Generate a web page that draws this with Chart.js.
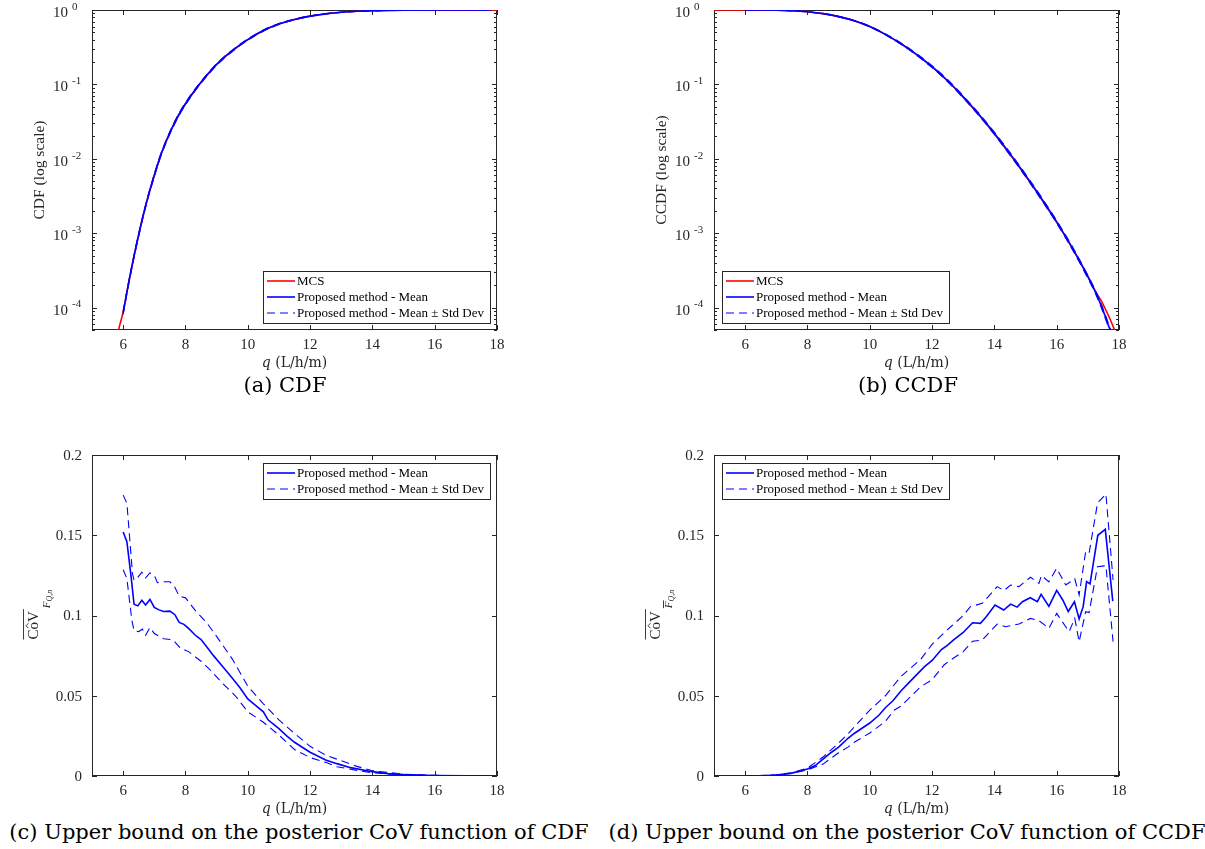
<!DOCTYPE html>
<html>
<head>
<meta charset="utf-8">
<script src="https://cdn.jsdelivr.net/npm/chart.js@4.4.1/dist/chart.umd.min.js"></script>
<style>
  body { margin: 0; background: #fff; width: 1205px; height: 849px; position: relative; overflow: hidden; }
  .panel { position: absolute; }
  .caption { position: absolute; font-family: "DejaVu Serif", serif; font-size: 21px; line-height: 24px; color: #000; white-space: nowrap; transform: translateX(-50%); }
</style>
</head>
<body>
<div class="panel" style="left:0;top:0"><canvas id="cdf" width="520" height="380"></canvas></div>
<div class="panel" style="left:622px;top:0"><canvas id="ccdf" width="520" height="380"></canvas></div>
<div class="panel" style="left:0;top:440px"><canvas id="covCdf" width="520" height="380"></canvas></div>
<div class="panel" style="left:622px;top:440px"><canvas id="covCcdf" width="520" height="380"></canvas></div>
<div class="caption" style="left:285px;top:373px">(a) CDF</div>
<div class="caption" style="left:908px;top:373px">(b) CCDF</div>
<div class="caption" style="left:299px;top:820px">(c) Upper bound on the posterior CoV function of CDF</div>
<div class="caption" style="left:907px;top:820px">(d) Upper bound on the posterior CoV function of CCDF</div>
<script>
// axis ticks and labels
const xTickValues = [6, 8, 10, 12, 14, 16, 18];
const logTickValues = [1e-4, 1e-3, 1e-2, 1e-1, 1];
const covTickValues = [0, 0.05, 0.1, 0.15, 0.2];
const covTickLabels = ['0', '0.05', '0.1', '0.15', '0.2'];
const xTitleVar = 'q';
const xTitleUnit = '(L/h/m)';
const legendLabels = ['MCS', 'Proposed method - Mean', 'Proposed method - Mean \u00b1 Std Dev'];

// (a) CDF
const qCdfMcs = [5.8, 5.9, 6.0, 6.2, 6.4, 6.6, 6.8, 7.0, 7.2, 7.4, 7.6, 7.8, 8.0, 8.5, 9.0, 9.5, 10.0, 10.5, 11.0, 11.5, 12.0, 12.5, 13.0, 13.5, 14.0, 15.0, 16.0, 17.0, 18.0];
const cdfMcs = [4.2e-5, 6.0e-5, 8.8e-5, 2.45e-4, 6.2e-4, 1.47e-3, 3.1e-3, 6.0e-3, 0.011, 0.018, 0.0278, 0.040, 0.055, 0.107, 0.186, 0.283, 0.40, 0.529, 0.648, 0.747, 0.828, 0.889, 0.932, 0.96, 0.978, 0.994, 0.9986, 0.9997, 1.0];
const qCdf = [6.0, 6.1, 6.2, 6.3, 6.4, 6.5, 6.6, 6.7, 6.8, 6.9, 7.0, 7.2, 7.4, 7.6, 7.8, 8.0, 8.25, 8.5, 8.75, 9.0, 9.25, 9.5, 9.75, 10.0, 10.5, 11.0, 11.5, 12.0, 12.5, 13.0, 13.5, 14.0, 15.0, 16.0, 17.0, 17.8];
const cdfMean = [8.5e-5, 1.45e-4, 2.4e-4, 3.9e-4, 6.2e-4, 9.5e-4, 1.45e-3, 2.15e-3, 3.1e-3, 4.35e-3, 6.0e-3, 0.011, 0.018, 0.0275, 0.040, 0.055, 0.078, 0.107, 0.142, 0.185, 0.232, 0.282, 0.34, 0.40, 0.529, 0.647, 0.747, 0.827, 0.888, 0.932, 0.96, 0.978, 0.994, 0.9986, 0.9997, 1.0];
const cdfUpper = [8.9e-5, 1.52e-4, 2.51e-4, 4.08e-4, 6.48e-4, 9.9e-4, 1.51e-3, 2.24e-3, 3.23e-3, 4.53e-3, 6.25e-3, 0.01145, 0.0187, 0.0286, 0.0415, 0.057, 0.0805, 0.110, 0.146, 0.19, 0.238, 0.289, 0.348, 0.409, 0.539, 0.657, 0.755, 0.833, 0.892, 0.934, 0.961, 0.978, 0.994, 0.9986, 0.9997, 1.0];
const cdfLower = [8.1e-5, 1.38e-4, 2.29e-4, 3.72e-4, 5.92e-4, 9.1e-4, 1.39e-3, 2.06e-3, 2.97e-3, 4.17e-3, 5.75e-3, 0.01055, 0.0173, 0.0264, 0.0385, 0.053, 0.0755, 0.104, 0.138, 0.18, 0.226, 0.275, 0.332, 0.391, 0.519, 0.637, 0.739, 0.821, 0.884, 0.93, 0.959, 0.978, 0.994, 0.9986, 0.9997, 1.0];

// (b) CCDF
const qCcdfMcs = [5.0, 6.0, 6.5, 7.0, 7.5, 8.0, 8.5, 9.0, 9.5, 10.0, 10.5, 11.0, 11.5, 12.0, 12.5, 13.0, 13.5, 14.0, 14.5, 15.0, 15.5, 16.0, 16.5, 17.0, 17.25, 17.4, 17.55, 17.7, 17.85, 17.95];
const ccdfMcs = [1.0, 0.9999, 0.999, 0.994, 0.978, 0.945, 0.893, 0.814, 0.717, 0.60, 0.471, 0.352, 0.252, 0.172, 0.111, 0.0675, 0.039, 0.0216, 0.0115, 0.0059, 0.00293, 0.0014, 6.3e-4, 2.65e-4, 1.62e-4, 1.3e-4, 9.8e-5, 7.2e-5, 5.1e-5, 4.0e-5];
const qCcdf = [6.0, 6.5, 7.0, 7.5, 8.0, 8.5, 9.0, 9.5, 10.0, 10.5, 11.0, 11.5, 12.0, 12.5, 13.0, 13.5, 14.0, 14.5, 15.0, 15.5, 16.0, 16.5, 17.0, 17.25, 17.5, 17.7, 17.8];
const ccdfMean = [0.9999, 0.999, 0.994, 0.978, 0.945, 0.893, 0.815, 0.718, 0.60, 0.471, 0.353, 0.253, 0.173, 0.112, 0.068, 0.0396, 0.022, 0.0117, 0.006, 0.00297, 0.00142, 6.35e-4, 2.6e-4, 1.6e-4, 8.9e-5, 5.2e-5, 4.0e-5];
const ccdfUpper = [0.9999, 0.999, 0.994, 0.979, 0.947, 0.896, 0.82, 0.724, 0.607, 0.478, 0.36, 0.259, 0.178, 0.1155, 0.0703, 0.041, 0.0228, 0.0122, 0.00625, 0.0031, 0.00148, 6.65e-4, 2.73e-4, 1.68e-4, 9.4e-5, 5.5e-5, 4.2e-5];
const ccdfLower = [0.9999, 0.999, 0.994, 0.977, 0.943, 0.89, 0.81, 0.712, 0.593, 0.464, 0.346, 0.247, 0.168, 0.1085, 0.0657, 0.0382, 0.0212, 0.0112, 0.00575, 0.00284, 0.00136, 6.05e-4, 2.47e-4, 1.52e-4, 8.4e-5, 4.9e-5, 3.8e-5];

// (c) CoV of CDF
const qCovCdfMean = [6.0, 6.12, 6.25, 6.35, 6.47, 6.6, 6.72, 6.86, 7.0, 7.15, 7.3, 7.5, 7.66, 7.8, 7.95, 8.1, 8.3, 8.5, 8.7, 8.9, 9.2, 9.5, 9.75, 10.0, 10.25, 10.5, 10.65, 11.0, 11.25, 11.5, 12.0, 12.5, 12.86, 13.3, 14.0, 14.5, 15.0, 16.0, 17.0, 17.8];
const covCdfMean = [0.152, 0.146, 0.125, 0.107, 0.106, 0.1095, 0.1065, 0.110, 0.105, 0.1035, 0.1025, 0.1027, 0.1005, 0.0957, 0.0945, 0.092, 0.088, 0.085, 0.080, 0.075, 0.068, 0.061, 0.055, 0.048, 0.044, 0.040, 0.035, 0.0295, 0.025, 0.021, 0.0148, 0.010, 0.0077, 0.0052, 0.0027, 0.0015, 0.0009, 0.0003, 0.0001, 0.0];
const qCovCdfUpper = [6.0, 6.12, 6.3, 6.35, 6.46, 6.6, 6.72, 6.86, 7.0, 7.1, 7.3, 7.5, 7.65, 7.8, 8.0, 8.3, 8.7, 9.0, 9.5, 10.0, 10.5, 11.0, 11.5, 12.0, 12.5, 12.86, 13.5, 14.0, 15.0, 16.0, 17.0, 17.8];
const covCdfUpper = [0.175, 0.170, 0.126, 0.122, 0.1235, 0.127, 0.1235, 0.1265, 0.125, 0.1205, 0.121, 0.121, 0.118, 0.112, 0.111, 0.1035, 0.095, 0.087, 0.073, 0.056, 0.045, 0.035, 0.0265, 0.0185, 0.013, 0.0105, 0.006, 0.0033, 0.0011, 0.0004, 0.0001, 0.0];
const qCovCdfLower = [6.0, 6.12, 6.28, 6.35, 6.5, 6.62, 6.72, 6.86, 7.0, 7.3, 7.6, 7.85, 8.1, 8.5, 8.8, 9.2, 9.6, 10.0, 10.5, 11.0, 11.5, 12.0, 12.5, 12.86, 13.5, 14.0, 15.0, 16.0, 17.0, 17.8];
const covCdfLower = [0.1285, 0.123, 0.097, 0.0905, 0.090, 0.0915, 0.0877, 0.0925, 0.0888, 0.0855, 0.0848, 0.0795, 0.0775, 0.0715, 0.066, 0.0575, 0.050, 0.040, 0.0335, 0.0255, 0.0165, 0.0115, 0.0085, 0.0058, 0.0035, 0.002, 0.0006, 0.0002, 0.0, 0.0];

// (d) CoV of CCDF
const qCovCcdfMean = [6.0, 6.5, 7.0, 7.5, 8.0, 8.25, 8.5, 8.75, 9.0, 9.3, 9.5, 10.0, 10.3, 10.5, 10.75, 11.0, 11.25, 11.5, 11.75, 12.0, 12.3, 12.5, 12.7, 13.0, 13.3, 13.55, 13.72, 14.02, 14.3, 14.52, 14.73, 14.9, 15.15, 15.38, 15.5, 15.75, 16.0, 16.2, 16.37, 16.57, 16.72, 16.85, 16.96, 17.07, 17.32, 17.56, 17.8];
const covCcdfMean = [0.0, 0.0001, 0.0006, 0.0018, 0.0044, 0.0065, 0.0105, 0.0145, 0.018, 0.0235, 0.0265, 0.033, 0.038, 0.0425, 0.047, 0.053, 0.058, 0.063, 0.068, 0.072, 0.0788, 0.0815, 0.085, 0.0894, 0.0955, 0.0951, 0.0988, 0.1065, 0.1034, 0.1071, 0.1052, 0.1086, 0.1111, 0.1086, 0.1132, 0.1057, 0.1157, 0.1095, 0.1025, 0.1086, 0.0978, 0.1055, 0.1211, 0.1197, 0.150, 0.1537, 0.109];
const qCovCcdfUpper = [6.0, 7.0, 7.5, 8.0, 8.5, 9.0, 9.3, 9.5, 10.0, 10.5, 10.78, 11.0, 11.64, 12.0, 12.39, 12.6, 13.0, 13.23, 13.61, 14.09, 14.31, 14.52, 14.79, 15.16, 15.43, 15.51, 15.75, 16.0, 16.29, 16.58, 16.72, 16.93, 17.04, 17.31, 17.58, 17.81];
const covCcdfUpper = [0.0, 0.0007, 0.002, 0.005, 0.0118, 0.0205, 0.0263, 0.0305, 0.041, 0.050, 0.0567, 0.062, 0.0728, 0.082, 0.0893, 0.093, 0.100, 0.1055, 0.1076, 0.118, 0.1155, 0.119, 0.118, 0.1238, 0.120, 0.125, 0.121, 0.1294, 0.119, 0.1229, 0.1128, 0.1398, 0.1388, 0.170, 0.1757, 0.1221];
const qCovCcdfLower = [6.0, 7.0, 7.5, 8.0, 8.5, 9.0, 9.3, 9.5, 10.0, 10.5, 10.78, 11.0, 11.64, 12.0, 12.39, 12.6, 13.0, 13.3, 13.61, 14.09, 14.36, 14.79, 15.16, 15.43, 15.75, 16.0, 16.29, 16.4, 16.58, 16.72, 16.93, 17.04, 17.31, 17.58, 17.81];
const covCcdfLower = [0.0, 0.0005, 0.0016, 0.0038, 0.0074, 0.0145, 0.018, 0.021, 0.0268, 0.034, 0.041, 0.0435, 0.0557, 0.060, 0.0693, 0.0723, 0.0775, 0.084, 0.0847, 0.0947, 0.093, 0.0947, 0.0982, 0.0968, 0.092, 0.1013, 0.093, 0.090, 0.0982, 0.0837, 0.1024, 0.1018, 0.1304, 0.131, 0.0837];

const AXIS_COLOR = '#262626';
const TICK_FONT = '15px "Liberation Serif", serif';

function pts(xs, ys) {
    return xs.map((x, i) => ({ x: x, y: ys[i] }));
}

function mcsSet(xs, ys) {
    return { label: legendLabels[0], data: pts(xs, ys), borderColor: '#ff0000', borderWidth: 1.6, order: 3, cubicInterpolationMode: 'monotone' };
}

function meanSet(xs, ys, smooth) {
    return { label: legendLabels[1], data: pts(xs, ys), borderColor: '#0000ff', borderWidth: 1.6, order: 1,
             cubicInterpolationMode: smooth ? 'monotone' : 'default', tension: 0 };
}

function stdSet(xs, ys, smooth, skip) {
    return { label: legendLabels[2], data: pts(xs, ys), borderColor: '#0000ff', borderWidth: 1.1, borderDash: [8, 5], order: 2,
             cubicInterpolationMode: smooth ? 'monotone' : 'default', tension: 0, hideInLegend: skip };
}

// rotated "CoV" label with overline, hat and subscript F_{Q,n}
function drawCovLabel(ctx, cx, cy, barF) {
    ctx.save();
    ctx.translate(cx, cy);
    ctx.rotate(-Math.PI / 2);
    ctx.fillStyle = AXIS_COLOR;
    ctx.strokeStyle = AXIS_COLOR;
    ctx.lineWidth = 0.9;
    ctx.textAlign = 'left';
    ctx.textBaseline = 'alphabetic';
    ctx.font = '15px "Liberation Serif", serif';
    const x0 = -24;
    const w = ctx.measureText('CoV').width;
    const cw = ctx.measureText('C').width;
    const ow = ctx.measureText('o').width;
    ctx.fillText('CoV', x0, 0);
    const hx = x0 + cw + ow / 2;
    ctx.beginPath();
    ctx.moveTo(hx - 2.5, -9.5);
    ctx.lineTo(hx, -12);
    ctx.lineTo(hx + 2.5, -9.5);
    ctx.stroke();
    ctx.beginPath();
    ctx.moveTo(x0, -14.5);
    ctx.lineTo(x0 + w + 2, -14.5);
    ctx.stroke();
    ctx.font = 'italic 11px "Liberation Serif", serif';
    const fx = x0 + w + 3;
    ctx.fillText('F', fx, 12);
    const fw = ctx.measureText('F').width;
    if (barF) {
        ctx.beginPath();
        ctx.moveTo(fx, 3.5);
        ctx.lineTo(fx + fw + 1, 3.5);
        ctx.stroke();
    }
    ctx.font = 'italic 8px "Liberation Serif", serif';
    ctx.fillText('Q,n', fx + fw, 14);
    ctx.restore();
}

function drawLegend(chart, corner) {
    const { ctx, chartArea: a } = chart;
    const items = chart.data.datasets.filter(d => !d.hideInLegend);
    ctx.save();
    ctx.font = '13px "Liberation Serif", serif';
    const textW = Math.max(...items.map(d => ctx.measureText(d.label).width));
    const w = Math.round(34 + textW + 6);
    const h = 4 + items.length * 16;
    const bx = corner.endsWith('l') ? a.left + 8 : a.right - 7 - w;
    const by = corner.startsWith('t') ? a.top + 8 : a.bottom - 7 - h;
    ctx.fillStyle = '#ffffff';
    ctx.fillRect(bx, by, w, h);
    ctx.strokeStyle = '#262626';
    ctx.lineWidth = 1;
    ctx.strokeRect(Math.round(bx) + 0.5, Math.round(by) + 0.5, w, h);
    items.forEach((d, i) => {
        const ry = by + 10 + i * 16;
        ctx.beginPath();
        ctx.strokeStyle = d.borderColor;
        ctx.lineWidth = d.borderWidth;
        ctx.setLineDash(d.borderDash || []);
        ctx.moveTo(bx + 4, ry);
        ctx.lineTo(bx + 32, ry);
        ctx.stroke();
        ctx.setLineDash([]);
        ctx.fillStyle = '#000000';
        ctx.textAlign = 'left';
        ctx.textBaseline = 'middle';
        ctx.fillText(d.label, bx + 34, ry + 1);
    });
    ctx.restore();
}

const matlabAxes = {
    id: 'matlabAxes',
    beforeDatasetsDraw(chart, args, opts) {
        const { ctx, chartArea: a } = chart;
        const xs = chart.scales.x;
        const ys = chart.scales.y;
        ctx.save();
        ctx.strokeStyle = AXIS_COLOR;
        ctx.lineWidth = 1;
        ctx.strokeRect(a.left + 0.5, a.top + 0.5, a.right - a.left - 1, a.bottom - a.top - 1);
        ctx.beginPath();
        xs.ticks.forEach(t => {
            const px = Math.round(xs.getPixelForValue(t.value)) + 0.5;
            ctx.moveTo(px, a.bottom);
            ctx.lineTo(px, a.bottom - 5);
            ctx.moveTo(px, a.top);
            ctx.lineTo(px, a.top + 5);
        });
        ys.ticks.forEach(t => {
            const py = Math.round(ys.getPixelForValue(t.value)) + 0.5;
            ctx.moveTo(a.left, py);
            ctx.lineTo(a.left + 5, py);
            ctx.moveTo(a.right, py);
            ctx.lineTo(a.right - 5, py);
        });
        if (opts.logY) {
            // minor decade ticks
            for (let e = -5; e < 0; e++) {
                for (let k = 2; k <= 9; k++) {
                    const v = k * Math.pow(10, e);
                    if (v < ys.min || v > ys.max) continue;
                    const py = Math.round(ys.getPixelForValue(v)) + 0.5;
                    ctx.moveTo(a.left, py);
                    ctx.lineTo(a.left + 3, py);
                    ctx.moveTo(a.right, py);
                    ctx.lineTo(a.right - 3, py);
                }
            }
        }
        ctx.stroke();
        ctx.restore();
    },
    afterDraw(chart, args, opts) {
        const { ctx, chartArea: a } = chart;
        const xs = chart.scales.x;
        const ys = chart.scales.y;
        ctx.save();
        ctx.fillStyle = AXIS_COLOR;
        ctx.font = TICK_FONT;
        ctx.textAlign = 'center';
        ctx.textBaseline = 'middle';
        xs.ticks.forEach(t => ctx.fillText(String(t.value), xs.getPixelForValue(t.value), a.bottom + 15));

        if (opts.logY) {
            ys.ticks.forEach(t => {
                const py = ys.getPixelForValue(t.value);
                const exp = Math.round(Math.log10(t.value));
                ctx.textAlign = 'left';
                ctx.font = TICK_FONT;
                ctx.fillText('10', a.left - 39, py + 3);
                const w10 = ctx.measureText('10').width;
                ctx.font = '11px "Liberation Serif", serif';
                ctx.fillText(String(exp), a.left - 39 + w10 + 4, py - 3);
            });
        } else {
            ctx.textAlign = 'right';
            ys.ticks.forEach((t, i) => ctx.fillText(covTickLabels[i], a.left - 10, ys.getPixelForValue(t.value) + 1));
        }

        // x axis title
        const cx = (a.left + a.right) / 2;
        const ty = a.bottom + 33;
        ctx.textAlign = 'left';
        ctx.font = 'italic 14px "DejaVu Serif", serif';
        const wq = ctx.measureText(xTitleVar + ' ').width;
        ctx.font = '14px "DejaVu Serif", serif';
        const wu = ctx.measureText(xTitleUnit).width;
        const sx = cx - (wq + wu) / 2;
        ctx.font = 'italic 14px "DejaVu Serif", serif';
        ctx.fillText(xTitleVar, sx, ty);
        ctx.font = '14px "DejaVu Serif", serif';
        ctx.fillText(xTitleUnit, sx + wq, ty);

        // y axis title
        if (opts.yTitle) {
            ctx.save();
            ctx.translate(a.left - 52, (a.top + a.bottom) / 2);
            ctx.rotate(-Math.PI / 2);
            ctx.textAlign = 'center';
            ctx.textBaseline = 'middle';
            ctx.font = '15.5px "Liberation Serif", serif';
            ctx.fillText(opts.yTitle, 0, 0);
            ctx.restore();
        } else {
            drawCovLabel(ctx, a.left - 54, (a.top + a.bottom) / 2, opts.barF);
        }
        ctx.restore();

        drawLegend(chart, opts.legendCorner);
    }
};

function makeChart(id, datasets, yOpts, deco) {
    return new Chart(document.getElementById(id), {
        type: 'line',
        data: { datasets: datasets },
        options: {
            responsive: false,
            animation: false,
            devicePixelRatio: 1,
            events: [],
            layout: { padding: { top: deco.padTop, right: 23, left: 0, bottom: 0 } },
            elements: { point: { radius: 0 }, line: { fill: false } },
            plugins: {
                legend: { display: false },
                tooltip: { enabled: false },
                matlabAxes: { logY: deco.logY, yTitle: deco.yTitle, barF: deco.barF, legendCorner: deco.legendCorner }
            },
            scales: {
                x: {
                    type: 'linear', min: 5, max: 18,
                    ticks: { display: false },
                    grid: { display: false },
                    border: { display: false },
                    afterBuildTicks: s => { s.ticks = xTickValues.map(v => ({ value: v })); },
                    afterFit: s => { s.height = deco.xHeight; }
                },
                y: Object.assign({
                    ticks: { display: false },
                    grid: { display: false },
                    border: { display: false },
                    afterFit: s => { s.width = 92; }
                }, yOpts)
            }
        },
        plugins: [matlabAxes]
    });
}

const logY = {
    type: 'logarithmic', min: 5e-5, max: 1,
    afterBuildTicks: s => { s.ticks = logTickValues.map(v => ({ value: v })); }
};
const covY = {
    type: 'linear', min: 0, max: 0.2,
    afterBuildTicks: s => { s.ticks = covTickValues.map(v => ({ value: v })); }
};

makeChart('cdf', [
    mcsSet(qCdfMcs, cdfMcs),
    meanSet(qCdf, cdfMean, true),
    stdSet(qCdf, cdfUpper, true, false),
    stdSet(qCdf, cdfLower, true, true)
], logY, { padTop: 10, xHeight: 50, logY: true, yTitle: 'CDF (log scale)', legendCorner: 'br' });

makeChart('ccdf', [
    mcsSet(qCcdfMcs, ccdfMcs),
    meanSet(qCcdf, ccdfMean, true),
    stdSet(qCcdf, ccdfUpper, true, false),
    stdSet(qCcdf, ccdfLower, true, true)
], logY, { padTop: 10, xHeight: 50, logY: true, yTitle: 'CCDF (log scale)', legendCorner: 'bl' });

makeChart('covCdf', [
    meanSet(qCovCdfMean, covCdfMean, false),
    stdSet(qCovCdfUpper, covCdfUpper, false, false),
    stdSet(qCovCdfLower, covCdfLower, false, true)
], covY, { padTop: 15, xHeight: 44, logY: false, yTitle: '', barF: false, legendCorner: 'tr' });

makeChart('covCcdf', [
    meanSet(qCovCcdfMean, covCcdfMean, false),
    stdSet(qCovCcdfUpper, covCcdfUpper, false, false),
    stdSet(qCovCcdfLower, covCcdfLower, false, true)
], covY, { padTop: 15, xHeight: 44, logY: false, yTitle: '', barF: true, legendCorner: 'tl' });
</script>
</body>
</html>
